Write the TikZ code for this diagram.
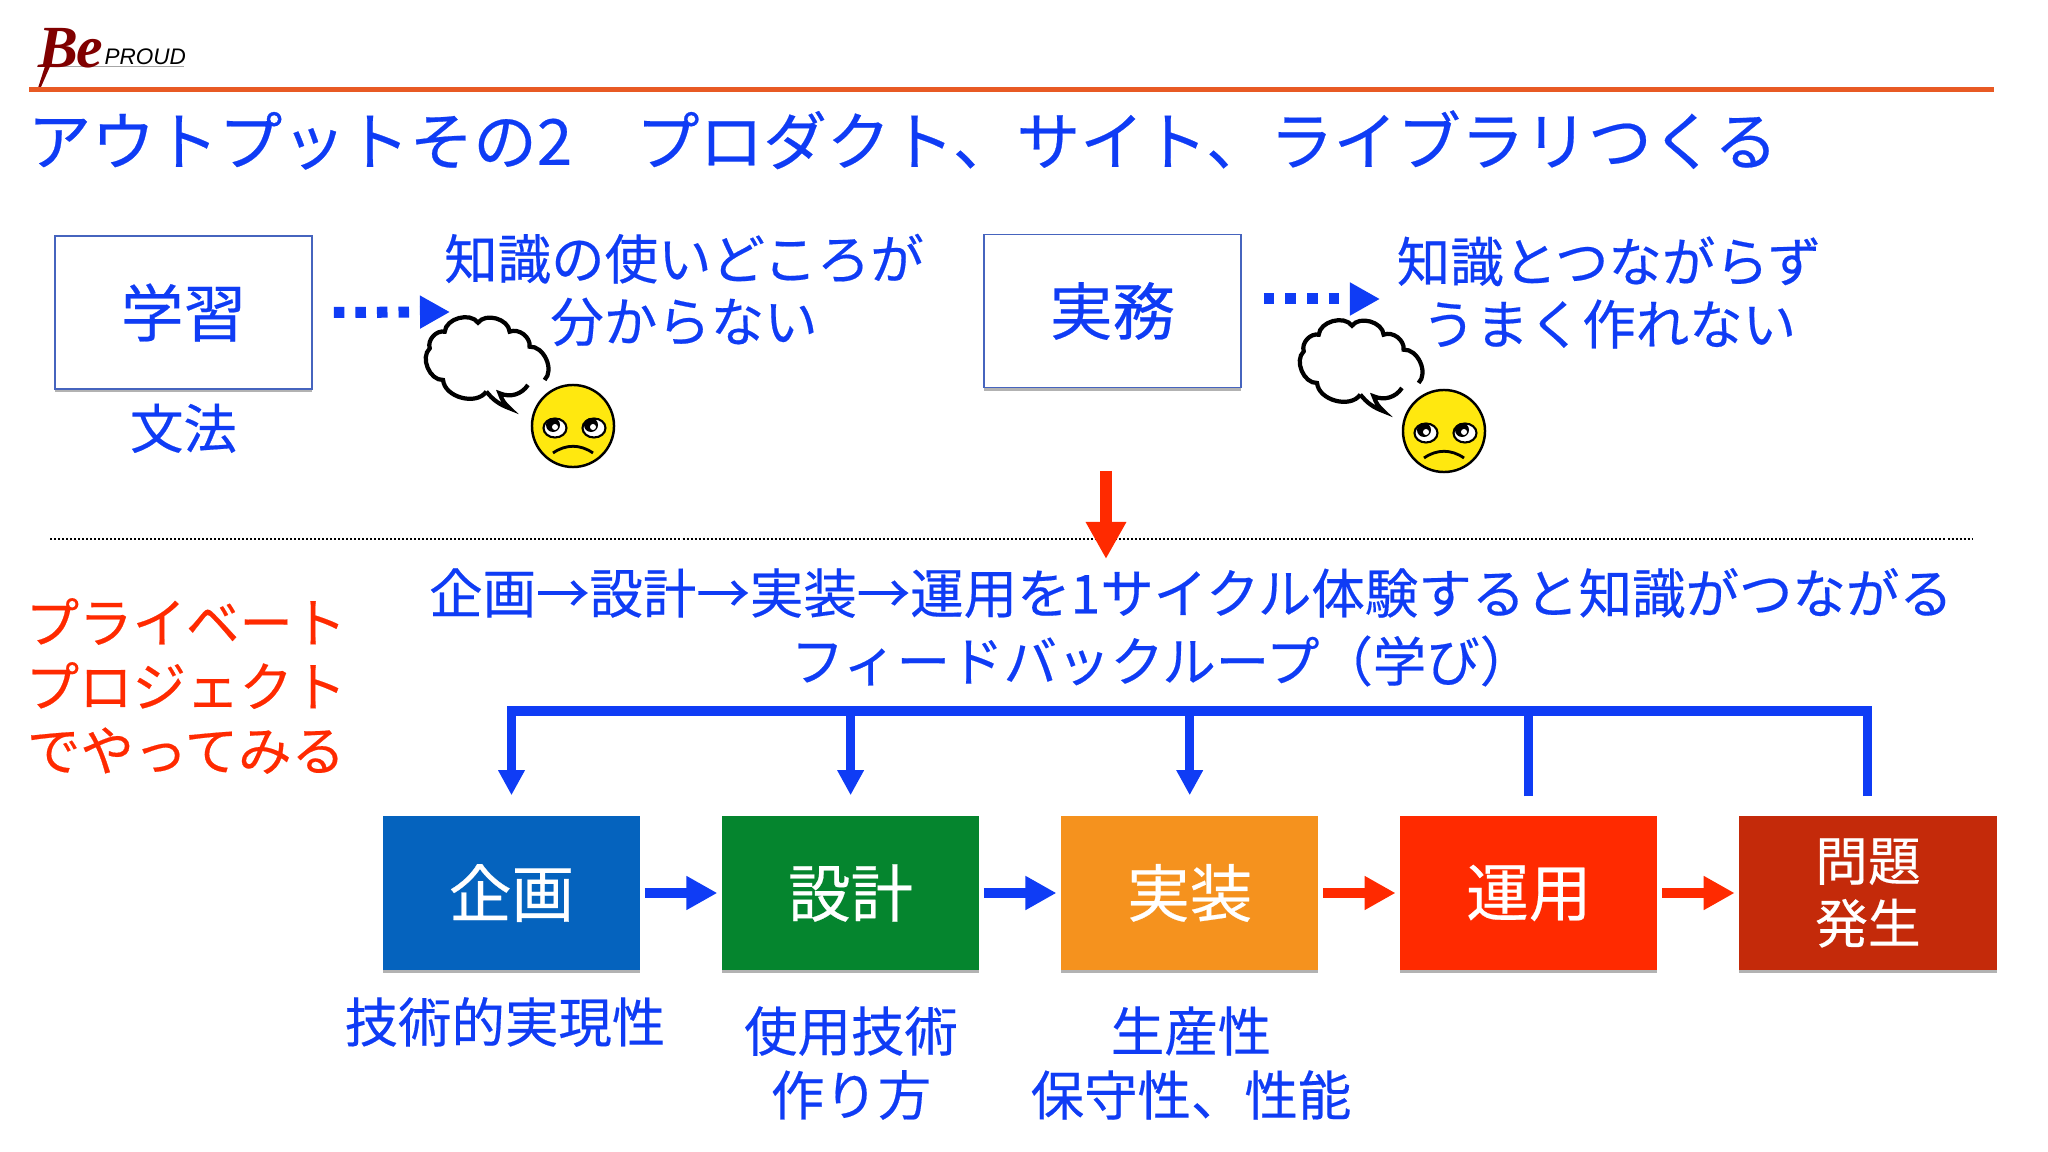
\documentclass[tikz,border=0pt]{standalone}
\usepackage{fontspec}
\setmainfont{Noto Sans CJK JP}[RawFeature={embolden=0.35}]
\newfontfamily\logoserif{Liberation Serif}
\newfontfamily\logosans{Liberation Sans}
\usetikzlibrary{arrows.meta,calc,positioning,shadows}
\definecolor{textblue}{RGB}{15,60,245}
\definecolor{alertred}{RGB}{255,42,0}
\definecolor{planblue}{RGB}{5,99,190}
\definecolor{designgreen}{RGB}{5,133,46}
\definecolor{buildorange}{RGB}{245,146,30}
\definecolor{issuered}{RGB}{196,42,10}
\definecolor{ruleorange}{RGB}{232,90,36}
\definecolor{faceyellow}{RGB}{255,232,15}
\definecolor{boxedge}{RGB}{70,100,190}
\tikzset{
  fsize/.style n args={2}{font=\fontsize{#1}{#2}\selectfont},
  bluetext/.style={text=textblue,align=center,inner sep=0pt,fsize={15.2}{17.8}},
  redtext/.style={text=alertred,align=center,inner sep=0pt,fsize={15.2}{18.2}},
  whitebox/.style={draw=boxedge,line width=0.5pt,fill=white,text=textblue,minimum width=2.57cm,minimum height=1.53cm,inner sep=0pt,fsize={17.8}{20},drop shadow={shadow xshift=0pt,shadow yshift=-0.03cm,fill=black!50,opacity=.6}},
  stagebox/.style={minimum width=2.57cm,minimum height=1.54cm,inner sep=0pt,text=white,align=center,fsize={17.8}{20},drop shadow={shadow xshift=0pt,shadow yshift=-0.025cm,fill=black!50,opacity=.6}},
  flowarrow/.style={line width=0.1cm,-{Triangle[length=0.31cm,width=0.32cm]},shorten <=0.04cm,shorten >=0.04cm},
  dotarrow/.style={textblue,line width=0.11cm,dash pattern=on 0.105cm off 0.11cm,-{Triangle[length=0.3cm,width=0.31cm]}},
  feedback/.style={textblue,line width=0.09cm},
  cloudbubble/.pic={
    \begin{scope}[x=0.00333cm,y=0.00333cm]
    \fill[white] (-120,-60) to[bend left=70] (-160,35) to[bend left=60] (-115,85) to[bend left=70] (-15,112) to[bend left=70] (80,85) to[bend left=60] (140,40) to[bend left=70] (185,-60) -- (135,-75) to[bend left=40] (50,-100) -- (80,-145) -- (10,-95) to[bend left=70] cycle;
    \draw[black,line width=1.2pt] (10,-95) to[bend left=70] (-120,-60) to[bend left=70] (-160,35) to[bend left=60] (-115,85) to[bend left=70] (-15,112) to[bend left=70] (80,85) to[bend left=60] (140,40) to[bend left=70] (185,-60);
    \draw[black,line width=1.2pt] (135,-75) to[bend left=40] (50,-100) to[bend right=15] (80,-145) to[bend left=15] (10,-95);
    \end{scope}
  },
  sadface/.pic={
    \filldraw[fill=faceyellow,draw=black,line width=0.7pt] (0,0) circle (0.41cm);
    \foreach \eyex/\lookx in {-18/-2,21/-3} {
      \filldraw[fill=white,draw=black,line width=0.6pt] (\eyex,-2) ellipse (0.115cm and 0.095cm);
      \fill[black] (\eyex+\lookx,1) circle (0.07cm);
      \fill[white] (\eyex+\lookx+2,-1) circle (0.03cm);
    }
    \draw[black,line width=0.8pt] (-20,-27) to[bend left=35] (20,-27);
  }
}
\begin{document}
\begin{tikzpicture}[>=Stealth,x=0.01cm,y=0.01cm]
\useasboundingbox[fill=white] (0,0) rectangle (2048,-1152);
\fill[black!35] (37,-66.5) rectangle (184,-67.5);
\node[anchor=base west,inner sep=0pt,text=red!50!black,font=\logoserif\itshape\bfseries\fontsize{17}{17}\selectfont] (logobe) at (38,-68) {B\kern-0.5pt e};
\node[anchor=base west,inner sep=0pt,text=black,font=\logosans\itshape\fontsize{6.4}{7}\selectfont] (logoproud) at (104,-65) {PROUD};
\fill[red!50!black] (47,-60) -- (52,-62) -- (41,-87) -- (38,-88) -- cycle;
\coordinate (ruleleft) at (29,-90);
\coordinate (ruleright) at (1994,-90);
\draw[ruleorange,line width=0.05cm] (ruleleft) -- (ruleright);
\node[anchor=west,text=textblue,inner sep=0pt,fsize={18.1}{22}] (title) at (27,-140) {アウトプットその2　プロダクト、サイト、ライブラリつくる};
\node[whitebox] (study) at (183.5,-312.5) {学習};
\node[bluetext,below=0.13cm of study] (grammar) {文法};
\node[whitebox] (work) at (1112.5,-311) {実務};
\node[bluetext] (studynote) at (684,-290) {知識の使いどころが\\分からない};
\node[bluetext] (worknote) at (1609,-292.5) {知識とつながらず\\うまく作れない};
\coordinate (studytip) at (450,-312);
\coordinate (worktip) at (1380,-299);
\draw[dotarrow,shorten <=0.21cm] (study.east) -- (studytip);
\draw[dotarrow,shorten <=0.22cm] (work.east |- worktip) -- (worktip);
\pic at (483,-360) {cloudbubble};
\pic at (1357,-363) {cloudbubble};
\pic at (573,-426) {sadface};
\pic at (1444,-431) {sadface};
\coordinate (sepleft) at (50,-539);
\coordinate (sepright) at (1972,-539);
\draw[black,line width=0.018cm,dash pattern=on 0.02cm off 0.02cm] (sepleft) -- (sepright);
\coordinate (downstart) at (1106,-471);
\coordinate (downtip) at (1106,-559);
\draw[alertred,line width=0.127cm,-{Triangle[length=0.37cm,width=0.38cm]}] (downstart) -- (downtip);
\node[bluetext] (cycle) at (1191,-593) {企画→設計→実装→運用を1サイクル体験すると知識がつながる};
\node[bluetext] (loop) at (1162,-661) {フィードバックループ（学び）};
\node[redtext] (private) at (186,-686) {プライベート\\プロジェクト\\でやってみる};
\node[stagebox,fill=planblue] (plan) at (511.5,-893) {企画};
\node[stagebox,fill=designgreen,right=0.805cm of plan] (design) {設計};
\node[stagebox,fill=buildorange,right=0.805cm of design] (build) {実装};
\node[stagebox,fill=alertred,right=0.805cm of build] (oper) {運用};
\node[stagebox,fill=issuered,right=0.805cm of oper,fsize={15}{17.8}] (issue) {問題\\発生};
\draw[flowarrow,textblue] (plan) -- (design);
\draw[flowarrow,textblue] (design) -- (build);
\draw[flowarrow,alertred] (build) -- (oper);
\draw[flowarrow,alertred] (oper) -- (issue);
\coordinate (looptop) at (1147,-711);
\draw[feedback,shorten <=0.19cm] (issue.north) |- (looptop);
\draw[feedback,shorten <=0.19cm] (oper.north) -- (oper.north |- looptop);
\draw[feedback,-{Triangle[length=0.25cm,width=0.25cm]},shorten >=0.2cm] (looptop) -| (plan.north);
\draw[feedback,-{Triangle[length=0.25cm,width=0.25cm]},shorten >=0.2cm] (design.north |- looptop) -- (design.north);
\draw[feedback,-{Triangle[length=0.25cm,width=0.25cm]},shorten >=0.2cm] (build.north |- looptop) -- (build.north);
\node[redtext,text=textblue] (feasible) at (505,-1022) {技術的実現性};
\node[redtext,text=textblue] (usage) at (851,-1063) {使用技術\\作り方};
\node[redtext,text=textblue] (quality) at (1191,-1063) {生産性\\保守性、性能};
\end{tikzpicture}
\end{document}
